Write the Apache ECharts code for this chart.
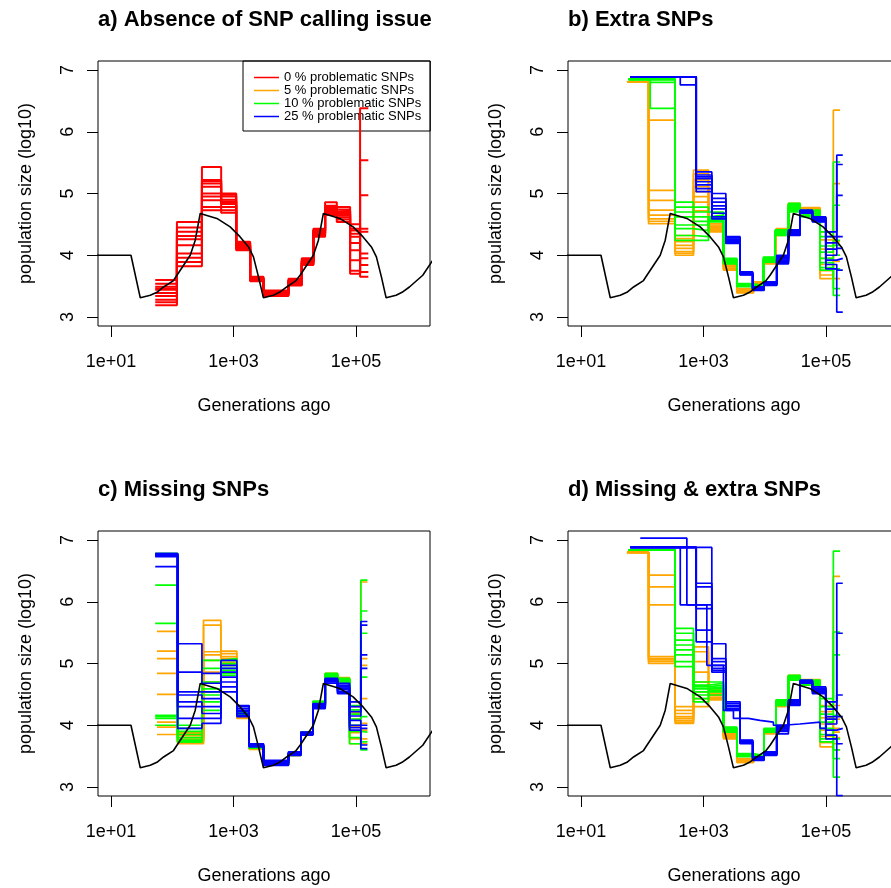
<!DOCTYPE html>
<html><head><meta charset="utf-8">
<script src="https://cdn.jsdelivr.net/npm/echarts@6/dist/echarts.min.js"></script>
<style>html,body{margin:0;padding:0;background:#fff}#c{width:891px;height:888px}</style>
</head><body><div id="c"></div><script>
// ---------- DATA (x = log10 generations ago, y = log10 population size) ----------
const xTickValues = [1, 3, 5];
const yTickValues = [3, 4, 5, 6, 7];
const panelTitles = ['a) Absence of SNP calling issue', 'b) Extra SNPs', 'c) Missing SNPs', 'd) Missing & extra SNPs'];
const seriesNames = ['0 % problematic SNPs', '5 % problematic SNPs', '10 % problematic SNPs', '25 % problematic SNPs'];
const seriesColors = ['#FF0000', '#FFA500', '#00FF00', '#0000FF'];

// true simulated demography
const truthLogT = [0.0, 1.326, 1.478, 1.641, 1.75, 1.858, 2.02, 2.076, 2.293, 2.375, 2.456, 2.484, 2.728, 2.945, 3.108, 3.244, 3.325, 3.407, 3.488,
  3.651, 3.75, 3.868, 4.02, 4.086, 4.303, 4.385, 4.466, 4.49, 4.734, 4.951, 5.114, 5.25, 5.331, 5.413, 5.49, 5.653, 5.75, 5.87, 6.088, 6.305];
const truthLogN = [4.0, 4.0, 3.31, 3.352, 3.40, 3.486, 3.59, 3.676, 4.0, 4.244, 4.677, 4.703, 4.596, 4.459, 4.297, 4.135, 3.973, 3.649, 3.31,
  3.352, 3.40, 3.486, 3.59, 3.676, 4.0, 4.244, 4.677, 4.703, 4.596, 4.459, 4.297, 4.135, 3.973, 3.649, 3.31, 3.352, 3.40, 3.486, 3.676, 4.0];

// panel a
const aRedLogT = [1.722, 2.076, 2.484, 2.798, 3.043, 3.271, 3.488, 3.896, 4.114, 4.303, 4.494, 4.685, 4.902, 5.065, 5.20];
const aRed = [
  [3.60,4.54,5.43,5.00,4.22,3.65,3.43,3.62,3.95,4.43,4.86,4.78,4.43,6.38],
  [3.54,4.45,5.22,4.95,4.18,3.63,3.41,3.60,3.93,4.41,4.80,4.74,4.35,5.54],
  [3.49,4.38,5.16,4.90,4.15,3.61,3.39,3.58,3.91,4.39,4.76,4.70,4.30,4.97],
  [3.44,4.31,5.11,4.87,4.12,3.60,3.37,3.56,3.89,4.37,4.73,4.67,4.08,4.43],
  [3.39,4.26,5.00,4.83,4.10,3.58,3.35,3.54,3.87,4.35,4.70,4.64,3.92,4.38],
  [3.34,4.16,4.89,4.78,4.08,3.64,3.34,3.52,3.85,4.33,4.68,4.61,3.75,4.03],
  [3.28,4.03,4.78,4.73,4.20,3.62,3.42,3.51,3.84,4.30,4.65,4.58,3.70,3.95],
  [3.24,3.96,4.73,4.69,4.14,3.59,3.38,3.59,3.92,4.40,4.75,4.54,4.50,3.84],
  [3.19,3.89,5.20,4.98,4.10,3.61,3.36,3.55,3.88,4.36,4.71,4.72,4.40,3.73],
  [3.46,3.82,4.95,4.85,4.16,3.60,3.40,3.57,3.90,4.32,4.78,4.66,4.20,3.65]
];

// panel b
const bOrangeLogT = [1.750, 2.103, 2.537, 2.836, 3.081, 3.325, 3.543, 3.815, 3.988, 4.184, 4.385, 4.575, 4.901, 5.118, 5.228];
const bOrange = [
  [6.81,6.19,4.32,5.38,4.51,3.89,3.46,3.57,3.95,4.43,4.84,4.77,4.38,6.35],
  [6.81,5.05,4.27,5.32,4.49,3.87,3.45,3.56,3.94,4.42,4.83,4.76,4.25,5.16],
  [6.81,4.89,4.22,5.22,4.47,3.85,3.44,3.55,3.93,4.40,4.82,4.75,4.10,4.30],
  [6.81,4.73,4.16,5.11,4.45,3.83,3.43,3.54,3.92,4.38,4.81,4.74,3.95,4.00],
  [6.81,4.65,4.11,5.03,4.43,3.81,3.42,3.53,3.90,4.37,4.80,4.72,3.85,3.78],
  [6.81,4.59,4.06,4.95,4.41,3.79,3.41,3.52,3.89,4.35,4.79,4.71,3.75,3.62],
  [6.81,4.55,4.03,4.86,4.40,3.77,3.40,3.50,3.88,4.34,4.78,4.70,3.68,4.22],
  [6.81,4.51,4.00,4.72,4.38,3.76,3.39,3.49,3.86,4.32,4.76,4.68,3.62,3.90]
];
const bGreenLogT = [1.777, 2.13, 2.537, 2.836, 3.081, 3.325, 3.543, 3.787, 3.978, 4.168, 4.385, 4.575, 4.901, 5.118, 5.228];
const bGreen = [
  [6.85,6.85,4.86,4.78,4.70,3.95,3.54,3.51,3.97,4.41,4.84,4.73,4.38,5.51],
  [6.85,6.85,4.78,4.70,4.68,3.94,3.53,3.50,3.96,4.40,4.82,4.72,4.30,4.81],
  [6.85,6.85,4.70,4.62,4.65,3.93,3.52,3.49,3.95,4.38,4.80,4.70,4.15,4.24],
  [6.85,6.85,4.62,4.55,4.62,3.92,3.52,3.48,3.94,4.37,4.78,4.68,4.05,4.16],
  [6.85,6.85,4.49,4.49,4.60,3.91,3.51,3.48,3.93,4.36,4.76,4.67,3.95,4.00],
  [6.85,6.85,4.43,4.40,4.58,3.90,3.51,3.47,3.92,4.35,4.74,4.65,3.88,3.78],
  [6.85,6.38,4.32,4.30,4.56,3.88,3.50,3.46,3.90,4.34,4.72,4.64,3.80,3.35],
  [6.85,6.80,4.24,4.24,4.54,3.86,3.49,3.46,3.89,4.32,4.70,4.62,3.76,3.46]
];
const bBlueLogT = [1.805, 2.62, 2.88, 3.135, 3.364, 3.596, 3.802, 3.987, 4.195, 4.385, 4.575, 4.777, 4.995, 5.174, 5.272];
const bBlue = [
  [6.89,6.89,5.35,5.00,4.30,3.73,3.49,3.57,4.00,4.41,4.73,4.62,4.38,5.62],
  [6.89,6.89,5.30,4.92,4.28,3.72,3.48,3.56,3.98,4.40,4.72,4.61,4.30,5.47],
  [6.89,6.89,5.24,4.86,4.26,3.71,3.47,3.55,3.96,4.38,4.72,4.60,4.20,4.97],
  [6.89,6.89,5.19,4.80,4.24,3.71,3.46,3.54,3.94,4.37,4.71,4.58,4.10,4.30],
  [6.89,6.89,5.14,4.75,4.23,3.70,3.46,3.54,3.92,4.36,4.70,4.57,4.00,4.11],
  [6.89,6.89,5.08,4.68,4.22,3.69,3.45,3.53,3.90,4.35,4.70,4.56,3.92,3.95],
  [6.89,6.89,5.03,4.62,4.20,3.69,3.44,3.52,3.88,4.33,4.69,4.55,3.85,3.76],
  [6.89,6.76,5.27,4.59,4.19,3.68,3.43,3.51,3.86,4.32,4.68,4.54,3.78,3.08]
];

// panel c
const cOrangeLogT = [1.75, 2.087, 2.51, 2.794, 3.054, 3.255, 3.488, 3.896, 4.098, 4.295, 4.496, 4.697, 4.893, 5.077, 5.185];
const cOrange = [
  [5.52,3.89,5.70,5.20,4.19,3.65,3.41,3.54,3.89,4.38,4.84,4.77,4.38,6.32],
  [5.20,3.86,5.62,5.16,4.18,3.64,3.40,3.54,3.88,4.37,4.83,4.76,4.30,5.08],
  [5.08,3.83,5.19,5.11,4.17,3.64,3.40,3.53,3.88,4.36,4.82,4.75,4.20,4.97],
  [4.84,3.80,5.14,5.08,4.16,3.63,3.39,3.53,3.87,4.35,4.81,4.74,4.10,4.43],
  [4.50,3.77,5.05,5.05,4.15,3.63,3.39,3.52,3.86,4.34,4.80,4.73,3.98,4.03],
  [4.05,3.75,4.86,5.02,4.14,3.62,3.38,3.52,3.86,4.33,4.79,4.72,3.88,3.92],
  [3.97,3.72,4.70,5.00,4.12,3.62,3.37,3.51,3.85,4.32,4.78,4.71,3.78,3.78],
  [3.85,3.70,4.54,4.97,4.11,3.61,3.36,3.51,3.84,4.30,4.76,4.70,3.70,3.70]
];
const cGreenLogT = [1.722, 2.087, 2.484, 2.794, 3.054, 3.255, 3.488, 3.896, 4.098, 4.295, 4.496, 4.697, 4.893, 5.077, 5.185];
const cGreen = [
  [6.78,4.00,5.05,5.08,4.22,3.67,3.42,3.55,3.89,4.39,4.84,4.76,4.32,6.35],
  [6.27,3.95,4.92,5.05,4.21,3.66,3.41,3.54,3.88,4.38,4.83,4.75,4.25,5.85],
  [5.65,3.90,4.70,5.00,4.20,3.66,3.40,3.54,3.88,4.37,4.82,4.74,4.18,5.49],
  [4.16,3.85,4.59,4.97,4.19,3.65,3.39,3.53,3.87,4.36,4.81,4.73,4.10,4.78],
  [4.14,3.80,4.54,4.92,4.18,3.65,3.38,3.53,3.87,4.34,4.80,4.72,4.00,4.14],
  [4.11,3.76,4.49,4.89,4.17,3.64,3.37,3.52,3.86,4.33,4.79,4.71,3.90,3.89],
  [4.00,3.73,4.38,4.84,4.16,3.64,3.37,3.52,3.86,4.32,4.78,4.70,3.80,3.73],
  [6.78,3.73,4.24,4.81,4.15,3.63,3.36,3.51,3.85,4.30,4.76,4.68,3.70,3.60]
];
const cBlueLogT = [1.722, 2.087, 2.484, 2.794, 3.054, 3.255, 3.488, 3.896, 4.098, 4.295, 4.496, 4.697, 4.893, 5.077, 5.185];
const cBlue = [
  [6.78,5.32,4.84,5.05,4.32,3.70,3.43,3.57,3.89,4.35,4.76,4.68,4.38,5.68],
  [6.77,4.86,4.68,4.97,4.30,3.69,3.42,3.56,3.88,4.34,4.75,4.65,4.30,5.62],
  [6.76,4.54,4.54,4.92,4.27,3.69,3.41,3.55,3.88,4.33,4.74,4.62,4.22,5.14],
  [6.75,4.49,4.43,4.86,4.24,3.68,3.40,3.54,3.87,4.32,4.73,4.60,4.15,4.92],
  [6.74,4.38,4.30,4.78,4.22,3.67,3.39,3.54,3.86,4.31,4.72,4.58,4.08,4.00],
  [6.73,4.30,4.19,4.70,4.19,3.66,3.38,3.53,3.85,4.30,4.71,4.55,4.00,3.95],
  [6.57,4.11,4.11,4.62,4.16,3.66,3.36,3.52,3.85,4.28,4.70,4.53,3.96,3.68],
  [6.78,3.95,4.03,4.54,4.14,3.65,3.35,3.51,3.84,4.27,4.68,4.51,3.92,3.62]
];

// panel d
const dOrangeLogT = [1.750, 2.103, 2.537, 2.836, 3.081, 3.325, 3.543, 3.815, 3.988, 4.184, 4.385, 4.575, 4.901, 5.118, 5.228];
const dOrange = [
  [6.80,6.43,4.30,5.27,4.59,3.89,3.46,3.51,3.92,4.41,4.81,4.74,4.32,6.41],
  [6.80,6.24,4.24,5.19,4.55,3.87,3.45,3.50,3.91,4.40,4.80,4.73,4.22,4.32],
  [6.80,5.95,4.19,5.03,4.52,3.85,3.44,3.50,3.90,4.38,4.80,4.72,4.12,3.95],
  [6.80,5.11,4.14,4.86,4.50,3.84,3.43,3.49,3.90,4.37,4.79,4.71,4.02,3.89],
  [6.80,5.03,4.08,4.70,4.48,3.82,3.42,3.49,3.89,4.35,4.78,4.70,3.92,3.80],
  [6.80,5.06,4.03,4.54,4.45,3.81,3.41,3.48,3.88,4.34,4.77,4.70,3.82,3.70],
  [6.80,5.08,4.05,4.43,4.43,3.80,3.40,3.47,3.87,4.32,4.77,4.69,3.72,4.10],
  [6.80,5.00,4.11,4.30,4.41,3.78,3.40,3.46,3.86,4.30,4.76,4.68,3.65,3.60]
];
const dGreenLogT = [1.777, 2.537, 2.836, 3.081, 3.325, 3.543, 3.815, 3.988, 4.184, 4.385, 4.575, 4.901, 5.118, 5.228];
const dGreen = [
  [6.84,5.57,4.70,4.70,3.97,3.54,3.51,3.95,4.41,4.81,4.73,4.43,6.82],
  [6.84,5.49,4.65,4.68,3.96,3.53,3.50,3.94,4.40,4.80,4.72,4.30,5.51],
  [6.84,5.38,4.62,4.65,3.95,3.52,3.49,3.93,4.38,4.79,4.71,4.18,5.14],
  [6.84,5.30,4.59,4.62,3.94,3.52,3.48,3.93,4.37,4.78,4.70,4.05,4.16],
  [6.84,5.22,4.54,4.60,3.93,3.51,3.48,3.92,4.36,4.77,4.69,3.95,3.78],
  [6.84,5.14,4.49,4.57,3.92,3.51,3.47,3.91,4.35,4.76,4.67,3.85,3.46],
  [6.84,5.03,4.43,4.54,3.90,3.50,3.46,3.90,4.34,4.75,4.66,3.78,3.16],
  [6.84,4.95,4.38,4.49,3.89,3.49,3.46,3.89,4.32,4.73,4.65,3.73,3.60]
];
const dBlueLogT = [1.805, 2.62, 2.88, 3.135, 3.364, 3.596, 3.802, 3.987, 4.195, 4.385, 4.575, 4.777, 4.995, 5.174, 5.272];
const dBlue = [
  [6.88,6.88,6.88,5.32,4.38,3.76,3.49,3.57,4.00,4.41,4.73,4.62,4.38,6.30],
  [6.88,6.88,6.30,5.08,4.35,3.75,3.48,3.56,3.98,4.40,4.72,4.60,4.26,5.49],
  [6.88,6.88,6.24,5.03,4.32,3.74,3.47,3.55,3.96,4.38,4.71,4.58,4.14,4.49],
  [6.88,6.88,5.89,4.92,4.30,3.73,3.46,3.54,3.94,4.37,4.70,4.56,4.02,4.14],
  [6.88,6.88,5.54,4.86,4.27,3.72,3.45,3.53,3.92,4.35,4.69,4.55,3.92,3.95],
  [6.88,6.88,5.35,4.97,4.24,3.71,3.44,3.52,3.90,4.34,4.68,4.53,3.84,3.70],
  [6.88,5.95,5.95,4.89,4.26,3.70,3.43,3.51,3.86,4.32,4.68,4.51,3.78,2.86]
];
const dBlueOddLogT = [1.967, 2.728, 3.054, 3.325, 3.488, 3.73, 3.92, 4.14, 4.30, 4.57, 4.90, 5.0, 5.174];
const dBlueOdd = [7.03, 5.95, 4.97, 4.24, 4.11, 4.08, 4.05, 4.00, 4.02, 4.05, 3.95, 4.10];

// ---------- BUILD ----------
const FONT = '"Liberation Sans", Arial, Helvetica, sans-serif';
const gridBoxes = [
  {left: 98, top: 61}, {left: 568, top: 61},
  {left: 98, top: 531}, {left: 568, top: 531}
];
const panels = [
  [{k: 0, t: aRedLogT, reps: aRed}],
  [{k: 1, t: bOrangeLogT, reps: bOrange}, {k: 2, t: bGreenLogT, reps: bGreen}, {k: 3, t: bBlueLogT, reps: bBlue}],
  [{k: 1, t: cOrangeLogT, reps: cOrange}, {k: 2, t: cGreenLogT, reps: cGreen}, {k: 3, t: cBlueLogT, reps: cBlue}],
  [{k: 1, t: dOrangeLogT, reps: dOrange}, {k: 2, t: dGreenLogT, reps: dGreen}, {k: 3, t: dBlueLogT, reps: dBlue},
   {k: 3, t: dBlueOddLogT, reps: [dBlueOdd]}]
];

function stepData(logT, vals) {
  const pts = [];
  for (let i = 0; i < vals.length; i++) {
    pts.push([logT[i], vals[i]]);
    pts.push([logT[i + 1], vals[i]]);
  }
  return pts;
}

const grid = [], xAxis = [], yAxis = [], series = [], title = [];
gridBoxes.forEach((g, i) => {
  grid.push({left: g.left, top: g.top, width: 332, height: 265, show: true,
    borderColor: '#000', borderWidth: 1, backgroundColor: 'transparent',
    containLabel: false, outerBoundsMode: 'none'});
  xAxis.push({
    type: 'value', gridIndex: i, min: 0.788, max: 6.206,
    axisLine: {show: false}, splitLine: {show: false},
    axisTick: {show: true, inside: false, length: 11, customValues: xTickValues, lineStyle: {color: '#000', width: 1}},
    axisLabel: {show: true, customValues: xTickValues, formatter: v => '1e+' + String(v).padStart(2, '0'),
      margin: 27, fontSize: 18, color: '#000', fontFamily: FONT},
    name: 'Generations ago', nameLocation: 'middle', nameGap: 71,
    nameTextStyle: {fontSize: 18, color: '#000', fontFamily: FONT}
  });
  yAxis.push({
    type: 'value', gridIndex: i, min: 2.854, max: 7.146,
    axisLine: {show: false}, splitLine: {show: false},
    axisTick: {show: true, inside: false, length: 11, customValues: yTickValues, lineStyle: {color: '#000', width: 1}},
    axisLabel: {show: true, customValues: yTickValues, rotate: 90, margin: 21,
      fontSize: 18, color: '#000', fontFamily: FONT},
    name: 'population size (log10)', nameLocation: 'middle', nameRotate: 90, nameGap: 63,
    nameTextStyle: {fontSize: 18, color: '#000', fontFamily: FONT}
  });
  title.push({text: panelTitles[i], left: g.left, top: g.top - 52, padding: 0,
    textStyle: {fontSize: 22, fontWeight: 'bold', color: '#000', fontFamily: FONT}});

  panels[i].forEach(grp => {
    grp.reps.forEach(rep => {
      series.push({
        type: 'line', name: seriesNames[grp.k], xAxisIndex: i, yAxisIndex: i,
        data: stepData(grp.t, rep), showSymbol: false, symbol: 'none', silent: true,
        color: seriesColors[grp.k], lineStyle: {color: seriesColors[grp.k], width: grp.k === 0 ? 2 : 1.7},
        clip: true, animation: false, emphasis: {disabled: true}
      });
    });
  });
  series.push({
    type: 'line', name: 'truth', xAxisIndex: i, yAxisIndex: i,
    data: truthLogT.map((t, j) => [t, truthLogN[j]]), showSymbol: false, symbol: 'none', silent: true,
    color: '#000', lineStyle: {color: '#000', width: 1.6}, clip: true, animation: false, emphasis: {disabled: true}
  });
});

const chart = echarts.init(document.getElementById('c'), null, {renderer: 'canvas'});
chart.setOption({
  backgroundColor: '#fff',
  animation: false,
  title: title,
  grid: grid, xAxis: xAxis, yAxis: yAxis,
  legend: {
    show: true, orient: 'vertical', left: 243, top: 61, z: 0, selectedMode: false,
    data: seriesNames, icon: 'rect', itemWidth: 25, itemHeight: 1.5, itemGap: 0,
    padding: [10, 9, 8, 11], borderColor: '#000', borderWidth: 1, backgroundColor: 'transparent',
    textStyle: {fontSize: 13, color: '#000', fontFamily: FONT, lineHeight: 13}
  },
  series: series
});
</script></body></html>
